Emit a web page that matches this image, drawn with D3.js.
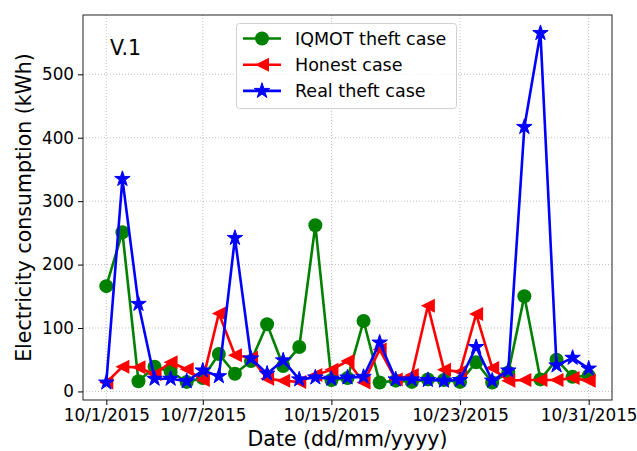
<!DOCTYPE html>
<html>
<head>
<meta charset="utf-8">
<script src="https://cdn.jsdelivr.net/npm/d3@7"></script>
<style>
  body { margin: 0; background: #fff; }
  text { font-family: "DejaVu Sans", sans-serif; fill: #000; }
</style>
</head>
<body>
<svg id="chart" width="637" height="451"></svg>
<script>
// one reading per day, 10/1/2015 .. 10/31/2015
const days = d3.timeDay.range(new Date(2015, 9, 1), new Date(2015, 10, 1));
const iqmot = [166, 251, 16, 39, 31, 15, 21, 59, 28, 48, 106, 40, 70, 262, 18, 21,
  111, 14, 17, 15, 19, 18, 15, 46, 14, 30, 150, 19, 50, 23, 25];
const honest = [14, 39, 38, 27, 46, 35, 18, 123, 57, 53, 20, 17, 15, 26, 34, 48,
  14, 66, 19, 26, 135, 34, 31, 122, 37, 17, 18, 18, 18, 21, 17];
const real = [14, 335, 138, 20, 20, 16, 33, 24, 242, 52, 28, 49, 19, 22, 20, 22,
  23, 77, 19, 19, 18, 17, 18, 70, 17, 33, 417, 565, 41, 53, 36];
const xTicks = [new Date(2015, 9, 1), new Date(2015, 9, 7), new Date(2015, 9, 15),
  new Date(2015, 9, 23), new Date(2015, 9, 31)];
const yTicks = [0, 100, 200, 300, 400, 500];

const pLeft = 83, pRight = 612, pTop = 15, pBottom = 400;
const svg = d3.select('#chart');

const pad = 1.45 * 864e5;
const x = d3.scaleTime()
  .domain([new Date(+days[0] - pad), new Date(+days[days.length - 1] + pad)])
  .range([pLeft, pRight]);
const y = d3.scaleLinear().domain([-13.5, 593.5]).range([pBottom, pTop]);

// grid
const grid = svg.append('g').attr('stroke', '#b0b0b0').attr('stroke-width', 0.8)
  .attr('stroke-dasharray', '1,2');
grid.selectAll('.gx').data(xTicks).enter().append('line')
  .attr('x1', d => x(d)).attr('x2', d => x(d)).attr('y1', pTop).attr('y2', pBottom);
grid.selectAll('.gy').data(yTicks).enter().append('line')
  .attr('x1', pLeft).attr('x2', pRight).attr('y1', d => y(d)).attr('y2', d => y(d));

const fmt = d => (d.getMonth() + 1) + '/' + d.getDate() + '/' + d.getFullYear();

const xAxis = svg.append('g').attr('transform', 'translate(0,' + pBottom + ')')
  .call(d3.axisBottom(x).tickValues(xTicks).tickFormat(fmt).tickSize(5).tickPadding(4));
const yAxis = svg.append('g').attr('transform', 'translate(' + pLeft + ',0)')
  .call(d3.axisLeft(y).tickValues(yTicks).tickSize(5).tickPadding(4));
[xAxis, yAxis].forEach(a => {
  a.select('.domain').remove();
  a.selectAll('line').attr('stroke', '#000').attr('stroke-width', 1);
  a.selectAll('text').style('font-size', '16.8px').style('font-family', '"DejaVu Sans", sans-serif');
});

// frame
svg.append('rect').attr('x', pLeft).attr('y', pTop)
  .attr('width', pRight - pLeft).attr('height', pBottom - pTop)
  .attr('fill', 'none').attr('stroke', '#222').attr('stroke-width', 1);

const line = d3.line().x((d, i) => x(days[i])).y(d => y(d));

const triLeft = r => 'M' + (-r) + ',0L' + r + ',' + (-r) + 'L' + r + ',' + r + 'Z';
const star = d3.symbol().type(d3.symbolStar).size(74)();

const series = [
  { name: 'IQMOT theft case', values: iqmot, color: 'green', marker: 'circle' },
  { name: 'Honest case', values: honest, color: 'red', marker: 'tri' },
  { name: 'Real theft case', values: real, color: 'blue', marker: 'star' }
];

function drawMarker(g, m, color) {
  if (m === 'circle') {
    g.append('circle').attr('r', 7).attr('fill', color);
  } else if (m === 'tri') {
    g.append('path').attr('d', triLeft(7)).attr('fill', color);
  } else {
    g.append('path').attr('d', star).attr('fill', color)
      .attr('stroke', color).attr('stroke-width', 1);
  }
}

series.forEach(s => {
  svg.append('path').datum(s.values)
    .attr('d', line).attr('fill', 'none')
    .attr('stroke', s.color).attr('stroke-width', 2.6).attr('stroke-linejoin', 'round');
  s.values.forEach((v, i) => {
    const g = svg.append('g').attr('transform', 'translate(' + x(days[i]) + ',' + y(v) + ')');
    drawMarker(g, s.marker, s.color);
  });
});

// labels
svg.append('text').attr('x', (pLeft + pRight) / 2).attr('y', 446)
  .attr('text-anchor', 'middle').style('font-size', '20.5px')
  .text('Date (dd/mm/yyyy)');
svg.append('text').attr('transform', 'translate(31,' + (pTop + pBottom) / 2 + ') rotate(-90)')
  .attr('text-anchor', 'middle').style('font-size', '20.5px')
  .text('Electricity consumption (kWh)');
svg.append('text').attr('x', 110).attr('y', 55).style('font-size', '20.5px').text('V.1');

// legend
const lg = svg.append('g');
lg.append('rect').attr('x', 236.5).attr('y', 23.5).attr('width', 220).attr('height', 85)
  .attr('rx', 3).attr('fill', '#fff').attr('fill-opacity', 0.8)
  .attr('stroke', '#d0d0d0').attr('stroke-width', 1);
series.forEach((s, i) => {
  const cy = 38.5 + i * 26.2;
  lg.append('line').attr('x1', 243).attr('x2', 281).attr('y1', cy).attr('y2', cy)
    .attr('stroke', s.color).attr('stroke-width', 2.6);
  drawMarker(lg.append('g').attr('transform', 'translate(262,' + cy + ')'), s.marker, s.color);
  lg.append('text').attr('x', 295).attr('y', cy + 6.3).style('font-size', '17.5px').text(s.name);
});
</script>
</body>
</html>
